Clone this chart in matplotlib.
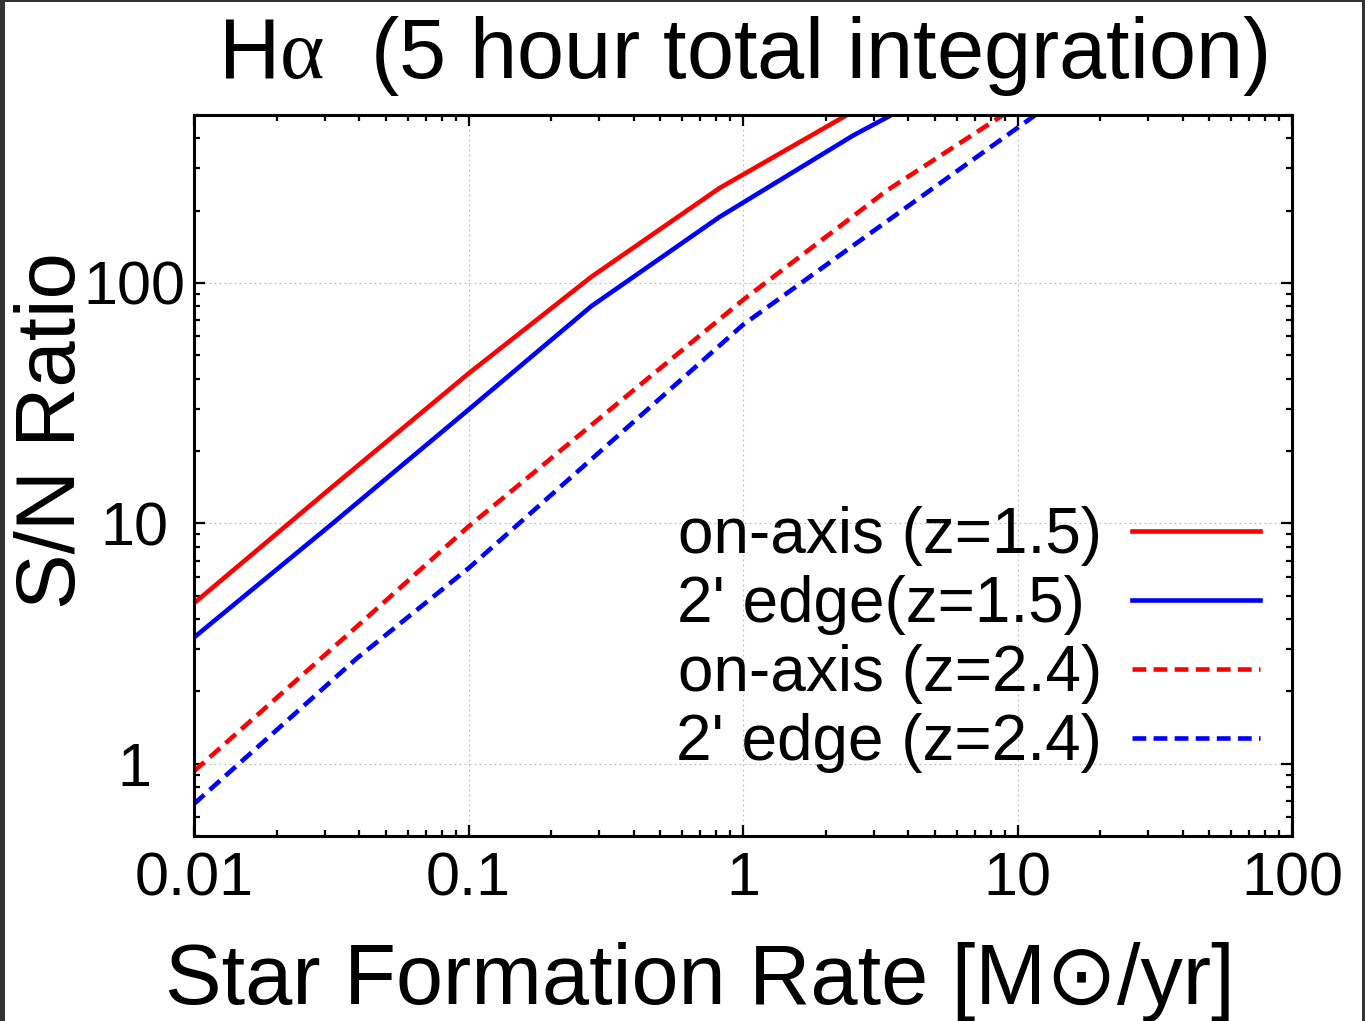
import matplotlib
matplotlib.use("Agg")
import matplotlib.pyplot as plt
from matplotlib.patches import Rectangle
from matplotlib.ticker import FixedLocator, FixedFormatter, LogLocator, NullFormatter

plt.rcParams['font.family'] = ['Liberation Sans', 'DejaVu Sans']
plt.rcParams['mathtext.fontset'] = 'custom'
plt.rcParams['mathtext.rm'] = 'Liberation Serif'

# on-axis, z=1.5
sfr_on_15 = [0.01, 0.031, 0.1, 0.28, 0.82, 3.0]
sn_on_15 = [4.65, 13.8, 42, 106, 248, 580]
# 2' edge, z=1.5
sfr_edge_15 = [0.01, 0.031, 0.1, 0.28, 0.82, 2.52, 4.0]
sn_edge_15 = [3.35, 9.7, 29.7, 80, 188, 411, 545]
# on-axis, z=2.4
sfr_on_24 = [0.01, 0.039, 0.1, 1.0, 3.35, 10]
sn_on_24 = [0.93, 3.7, 9.7, 85, 243, 547]
# 2' edge, z=2.4
sfr_edge_24 = [0.01, 0.039, 0.1, 1.0, 4.42, 13]
sn_edge_24 = [0.68, 2.73, 6.5, 67, 227, 548]

# trailing space keeps the legend texts lined up on the left
labels = ["on-axis (z=1.5)", "2' edge(z=1.5) ", "on-axis (z=2.4)", "2' edge (z=2.4)"]
x_ticks = [0.01, 0.1, 1, 10, 100]
x_ticklabels = ["0.01", "0.1", "1", "10", "100"]
y_ticks = [1, 10, 100]
y_ticklabels = ["1", "10", "100"]

W, H = 1365, 1021
fig = plt.figure(figsize=(W / 100, H / 100), dpi=100)
ax = fig.add_axes([194 / W, 1 - 836 / H, (1292 - 194) / W, (836 - 115) / H])

dash = (0, (3.0, 1.6))
ax.plot(sfr_on_15, sn_on_15, color='#ff0000', lw=3.3, label=labels[0])
ax.plot(sfr_edge_15, sn_edge_15, color='#0000ff', lw=3.3, label=labels[1])
ax.plot(sfr_on_24, sn_on_24, color='#ff0000', lw=3.3, linestyle=dash, label=labels[2])
ax.plot(sfr_edge_24, sn_edge_24, color='#0000ff', lw=3.3, linestyle=dash, label=labels[3])

ax.set_xscale('log')
ax.set_yscale('log')
ax.set_xlim(0.01, 100)
ax.set_ylim(0.5, 500)

ax.xaxis.set_major_locator(FixedLocator(x_ticks))
ax.xaxis.set_major_formatter(FixedFormatter(x_ticklabels))
ax.yaxis.set_major_locator(FixedLocator(y_ticks))
ax.yaxis.set_major_formatter(FixedFormatter(y_ticklabels))
ax.xaxis.set_minor_locator(LogLocator(base=10, subs=range(2, 10)))
ax.yaxis.set_minor_locator(LogLocator(base=10, subs=range(2, 10)))
ax.xaxis.set_minor_formatter(NullFormatter())
ax.yaxis.set_minor_formatter(NullFormatter())

ax.tick_params(which='both', direction='in', top=True, right=True, width=1.6)
ax.tick_params(which='major', length=8, labelsize=44)
ax.tick_params(which='minor', length=4)
ax.tick_params(axis='x', which='major', pad=11)
ax.tick_params(axis='y', which='major', pad=43)
for lbl in ax.get_yticklabels():
    lbl.set_horizontalalignment('center')
for sp in ax.spines.values():
    sp.set_linewidth(2.2)

ax.grid(True, which='major', color='#c0c0c0', linestyle=(0, (1.5, 2.5)), linewidth=0.9)

ax.set_title(r"H$\mathrm{\alpha}$  (5 hour total integration)", fontsize=61, pad=27)
ax.set_xlabel("Star Formation Rate [M\u2299/yr]", fontsize=61, x=0.461, labelpad=24)
ax.set_ylabel("S/N Ratio", fontsize=60)
ax.yaxis.set_label_coords(-0.093, 0.563)

ax.legend(loc='lower right', bbox_to_anchor=((1260 - 194) / 1098, (836 - 773) / 721),
          markerfirst=False, frameon=False, fontsize=46, handlelength=2.0,
          handletextpad=0.47, labelspacing=0.14, borderpad=0, borderaxespad=0)

# dark frame around the picture
for x0, y0, w, h in [(0, 0, 5 / W, 1), (0, 1 - 2 / H, 1, 2 / H), (1 - 3 / W, 0, 3 / W, 1)]:
    fig.add_artist(Rectangle((x0, y0), w, h, transform=fig.transFigure,
                             facecolor='#333333', edgecolor='none'))

fig.savefig("out.png", dpi=100)
